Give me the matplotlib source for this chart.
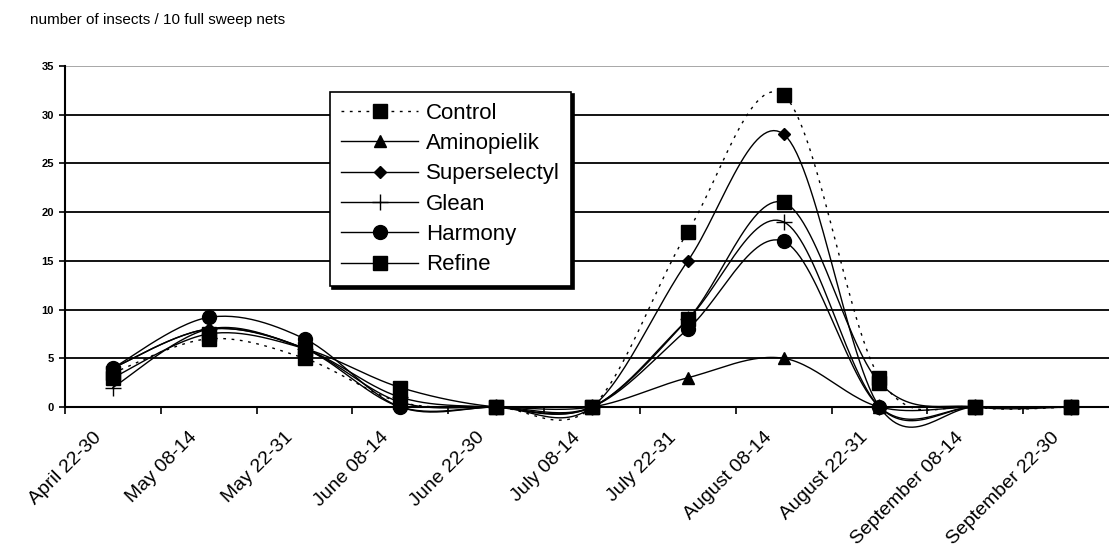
import numpy as np
import matplotlib
matplotlib.use("Agg")
import matplotlib.pyplot as plt
from matplotlib.lines import Line2D
from matplotlib.transforms import ScaledTranslation

plt.rcParams["font.family"] = ["Liberation Sans", "DejaVu Sans"]

categories = ["April 22-30", "May 08-14", "May 22-31", "June 08-14", "June 22-30",
              "July 08-14", "July 22-31", "August 08-14", "August 22-31",
              "September 08-14", "September 22-30"]

control = [3.5, 7.0, 5.0, 0.5, 0.0, 0.0, 18.0, 32.0, 3.0, 0.0, 0.0]
aminopielik = [4.0, 8.0, 6.0, 0.5, 0.0, 0.0, 3.0, 5.0, 0.0, 0.0, 0.0]
superselectyl = [4.0, 8.0, 6.0, 0.0, 0.0, 0.0, 15.0, 28.0, 0.0, 0.0, 0.0]
glean = [2.0, 8.0, 6.0, 1.0, 0.0, 0.0, 9.0, 19.0, 0.0, 0.0, 0.0]
harmony = [4.0, 9.2, 7.0, 0.0, 0.0, 0.0, 8.0, 17.0, 0.0, 0.0, 0.0]
refine = [3.0, 7.5, 6.0, 2.0, 0.0, 0.0, 9.0, 21.0, 2.5, 0.0, 0.0]

y_ticks = [0, 5, 10, 15, 20, 25, 30, 35]


def smooth_curve(xs, ys, steps=30):
    """Bezier smoothing through every point (Catmull-Rom style control points)."""
    pts = np.column_stack([xs, ys]).astype(float)
    padded = np.vstack([pts[0], pts, pts[-1]])
    t = np.linspace(0, 1, steps)[:, None]
    out = []
    for i in range(len(pts) - 1):
        p0, p1, p2, p3 = padded[i], padded[i + 1], padded[i + 2], padded[i + 3]
        c1 = p1 + (p2 - p0) / 6.0
        c2 = p2 - (p3 - p1) / 6.0
        seg = ((1 - t) ** 3) * p1 + 3 * ((1 - t) ** 2) * t * c1 + 3 * (1 - t) * t ** 2 * c2 + t ** 3 * p2
        out.append(seg if i == 0 else seg[1:])
    seg = np.vstack(out)
    return seg[:, 0], seg[:, 1]


fig = plt.figure(figsize=(11.09, 5.54), dpi=100)
ax = fig.add_axes([65 / 1109, 1 - 407 / 554, 1054 / 1109, 341 / 554])

x = np.arange(len(categories))
series = [
    ("Control", control, "s", 9.5, (0, (2, 4))),
    ("Aminopielik", aminopielik, "^", 8, "-"),
    ("Superselectyl", superselectyl, "D", 6.5, "-"),
    ("Glean", glean, "+", 12, "-"),
    ("Harmony", harmony, "o", 10, "-"),
    ("Refine", refine, "s", 9.5, "-"),
]

handles = []
for name, vals, mk, ms, ls in series:
    sx, sy = smooth_curve(x, vals)
    ax.plot(sx, sy, color="black", lw=1.0, ls=ls, clip_on=False, zorder=3)
    ax.plot(x, vals, ls="none", marker=mk, ms=ms, color="black",
            mec="black", mew=1.0, clip_on=False, zorder=4)
    handles.append(Line2D([0], [0], color="black", lw=1.0, ls=ls, marker=mk,
                          ms=ms, mec="black", mew=1.0, label=name))

ax.set_xlim(-0.5, len(categories) - 0.5)
ax.set_ylim(0, 35)

# horizontal gridlines
for v in y_ticks[1:-1]:
    ax.axhline(v, color="black", lw=1.3, zorder=1)
ax.axhline(35, color="#a0a0a0", lw=1.3, zorder=1)

for side in ["top", "right"]:
    ax.spines[side].set_visible(False)
ax.spines["left"].set_linewidth(1.5)
ax.spines["bottom"].set_linewidth(1.5)

ax.set_yticks(y_ticks)
ax.set_yticklabels([str(v) for v in y_ticks], fontsize=8, fontweight="bold")
ax.tick_params(axis="y", length=4, width=1.2, pad=4)

ax.set_xticks(x)
ax.set_xticklabels(categories, rotation=45, ha="right", va="center",
                   rotation_mode="anchor", fontsize=14)
ax.set_xticks(np.arange(-0.5, len(categories) + 0.5, 1), minor=True)
ax.tick_params(axis="x", which="major", length=0, pad=20)
ax.tick_params(axis="x", which="minor", length=5, width=1.2)
shift = ScaledTranslation(-14 / 100, 0, fig.dpi_scale_trans)
for lab in ax.get_xticklabels():
    lab.set_transform(lab.get_transform() + shift)

leg = ax.legend(handles=handles, loc="upper left", bbox_to_anchor=(0.251, 0.925),
                borderaxespad=0, fontsize=16, handlelength=3.5,
                handletextpad=0.35, labelspacing=0.42, borderpad=0.5,
                fancybox=False, frameon=True,
                shadow={"color": "black", "alpha": 1.0})
leg.get_frame().set_edgecolor("black")
leg.get_frame().set_linewidth(1.2)

fig.text(30 / 1109, 1 - 20 / 554, "number of insects / 10 full sweep nets",
         fontsize=11, va="center", ha="left")

fig.savefig("out.png", dpi=100)
